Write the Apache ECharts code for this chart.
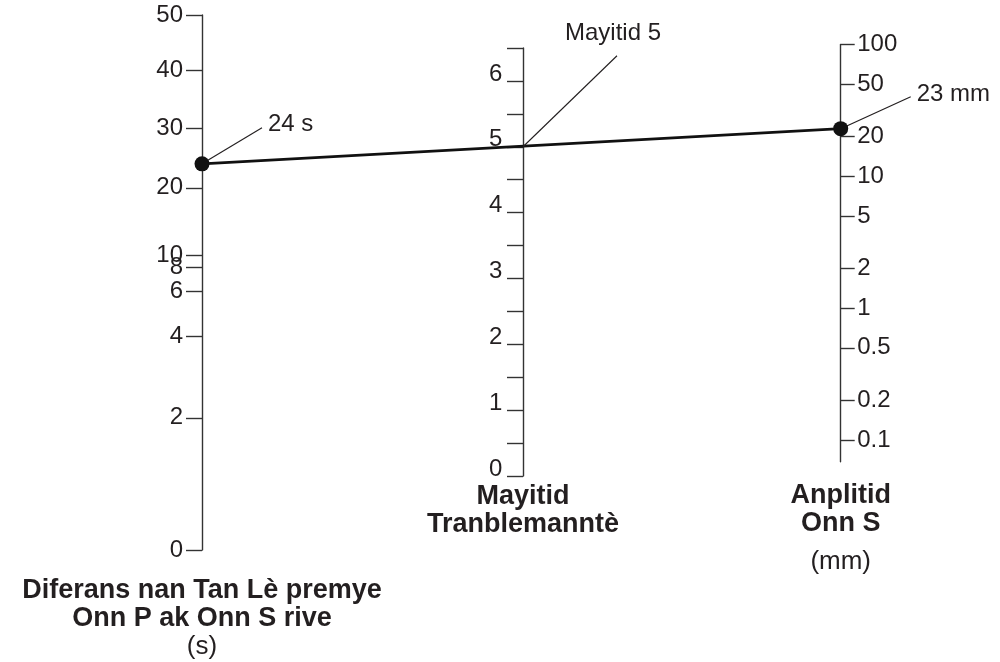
<!DOCTYPE html>
<html>
<head>
<meta charset="utf-8">
<title>Nomogram mayitid tranblemanntè</title>
<style>
  html, body { margin: 0; padding: 0; background: #fff; }
  #chart { width: 1000px; height: 662px; }
</style>
<script src="https://cdn.jsdelivr.net/npm/echarts@6/dist/echarts.min.js"></script>
</head>
<body>
<div id="chart"></div>
<script>
// left scale: S-P time difference (s); where each tick sits along the axis (0 = bottom, 1 = top)
const timeTicks = [0, 2, 4, 6, 8, 10, 20, 30, 40, 50];
const timeTickPos = [0, 0.247, 0.4, 0.483, 0.528, 0.551, 0.677, 0.789, 0.896, 1];

// middle scale: magnitude (linear)
const magTicks = [0, 0.5, 1, 1.5, 2, 2.5, 3, 3.5, 4, 4.5, 5, 5.5, 6, 6.5];
const magLabels = [0, 1, 2, 3, 4, 5, 6];

// right scale: S-wave amplitude (mm), log
const ampTicks = [0.1, 0.2, 0.5, 1, 2, 5, 10, 20, 50, 100];

// the reading drawn across the nomogram
const timeValue = 24;
const magValue = 5;
const ampValue = 23;

const FONT = "'Liberation Sans', Arial, Helvetica, sans-serif";
const INK = '#231f20';
const AXIS = '#333';

// position of a time value on the left scale, from the tick table
function timeToPos(t) {
  for (let i = 1; i < timeTicks.length; i++) {
    if (t <= timeTicks[i]) {
      const f = (t - timeTicks[i - 1]) / (timeTicks[i] - timeTicks[i - 1]);
      return timeTickPos[i - 1] + f * (timeTickPos[i] - timeTickPos[i - 1]);
    }
  }
  return 1;
}
function nearest(list, v, key) {
  let best = 0;
  list.forEach((x, i) => { if (Math.abs(x - v) < Math.abs(list[best] - v)) best = i; });
  return key[best];
}

const labelStyle = { fontFamily: FONT, fontSize: 24, color: INK };
const lineStyle = { color: AXIS, width: 1.4 };
const titleRich = {
  b: { fontFamily: FONT, fontSize: 27, fontWeight: 'bold', lineHeight: 28, color: INK },
  u: { fontFamily: FONT, fontSize: 26, lineHeight: 27, color: INK },
  u2: { fontFamily: FONT, fontSize: 26, lineHeight: 48, color: INK }
};

const chart = echarts.init(document.getElementById('chart'));
chart.setOption({
  animation: false,
  backgroundColor: '#fff',
  grid: [
    { left: 202, top: 15, width: 20, bottom: 112, outerBoundsMode: 'none' },
    { left: 523, top: 48, width: 20, bottom: 186, outerBoundsMode: 'none' },
    { left: 820.7, top: 44.5, width: 20, bottom: 200.3, outerBoundsMode: 'none' }
  ],
  xAxis: [0, 1, 2].map(i => ({ gridIndex: i, type: 'value', min: 0, max: 1, show: false })),
  yAxis: [
    {
      gridIndex: 0, type: 'value', min: 0, max: 1, position: 'left',
      axisLine: { show: true, onZero: false, lineStyle },
      axisTick: { show: true, length: 16, customValues: timeTickPos, lineStyle },
      axisLabel: Object.assign({ customValues: timeTickPos, margin: 19,
        formatter: v => String(nearest(timeTickPos, v, timeTicks)) }, labelStyle),
      splitLine: { show: false },
      name: '{b|Diferans nan Tan Lè premye}\n{b|Onn P ak Onn S rive}\n{u|(s)}',
      nameLocation: 'start', nameGap: 27, nameMoveOverlap: false,
      nameTextStyle: { align: 'center', rich: titleRich }
    },
    {
      gridIndex: 1, type: 'value', min: 0, max: 6.5, position: 'left',
      axisLine: { show: true, onZero: false, lineStyle },
      axisTick: { show: true, length: 16, customValues: magTicks, lineStyle },
      axisLabel: Object.assign({ customValues: magLabels, margin: 20.7,
        verticalAlign: 'bottom', lineHeight: 14 }, labelStyle),
      splitLine: { show: false },
      name: '{b|Mayitid}\n{b|Tranblemanntè}',
      nameLocation: 'start', nameGap: 7, nameMoveOverlap: false,
      nameTextStyle: { align: 'center', rich: titleRich }
    },
    {
      gridIndex: 2, type: 'log', logBase: 10, min: 0.0684, max: 100, position: 'right',
      axisLine: { show: true, onZero: false, lineStyle },
      axisTick: { show: true, length: 14, customValues: ampTicks, lineStyle },
      axisLabel: Object.assign({ customValues: ampTicks, margin: 16.5,
        formatter: v => String(nearest(ampTicks, v, ampTicks)) }, labelStyle),
      splitLine: { show: false },
      name: '{b|Anplitid}\n{b|Onn S}\n{u2|(mm)}',
      nameLocation: 'start', nameGap: 20, nameMoveOverlap: false,
      nameTextStyle: { align: 'center', rich: titleRich }
    }
  ],
  series: [
    {
      type: 'scatter', xAxisIndex: 0, yAxisIndex: 0, silent: true, z: 5,
      symbolSize: 15, itemStyle: { color: '#111', opacity: 1 },
      data: [[0, timeToPos(timeValue)]]
    },
    {
      type: 'scatter', xAxisIndex: 2, yAxisIndex: 2, silent: true, z: 5,
      symbolSize: 15, itemStyle: { color: '#111', opacity: 1 },
      data: [[1, ampValue]]
    }
  ]
});

// reading line and callouts, placed through the axes
const pL = chart.convertToPixel({ gridIndex: 0 }, [0, timeToPos(timeValue)]);
const pM = chart.convertToPixel({ gridIndex: 1 }, [0, magValue]);
const pR = chart.convertToPixel({ gridIndex: 2 }, [1, ampValue]);

const thin = { stroke: INK, lineWidth: 1.1 };
const txt = (x, y, text, align) => ({
  type: 'text', x, y, z: 10,
  style: { text, fontFamily: FONT, fontSize: 24, fill: INK, align, verticalAlign: 'middle' }
});

chart.setOption({
  graphic: [
    { type: 'line', z: 4, shape: { x1: pL[0], y1: pL[1], x2: pR[0], y2: pR[1] },
      style: { stroke: '#111', lineWidth: 2.6 } },
    { type: 'line', z: 4, shape: { x1: pL[0], y1: pL[1], x2: pL[0] + 60, y2: pL[1] - 36 }, style: thin },
    txt(pL[0] + 66, pL[1] - 39, timeValue + ' s', 'left'),
    { type: 'line', z: 4, shape: { x1: pM[0], y1: pM[1], x2: pM[0] + 94, y2: pM[1] - 91 }, style: thin },
    txt(pM[0] + 90, pM[1] - 113, 'Mayitid ' + magValue, 'center'),
    { type: 'line', z: 4, shape: { x1: pR[0], y1: pR[1], x2: pR[0] + 70, y2: pR[1] - 32 }, style: thin },
    txt(pR[0] + 76, pR[1] - 34, ampValue + ' mm', 'left')
  ]
});
</script>
</body>
</html>
